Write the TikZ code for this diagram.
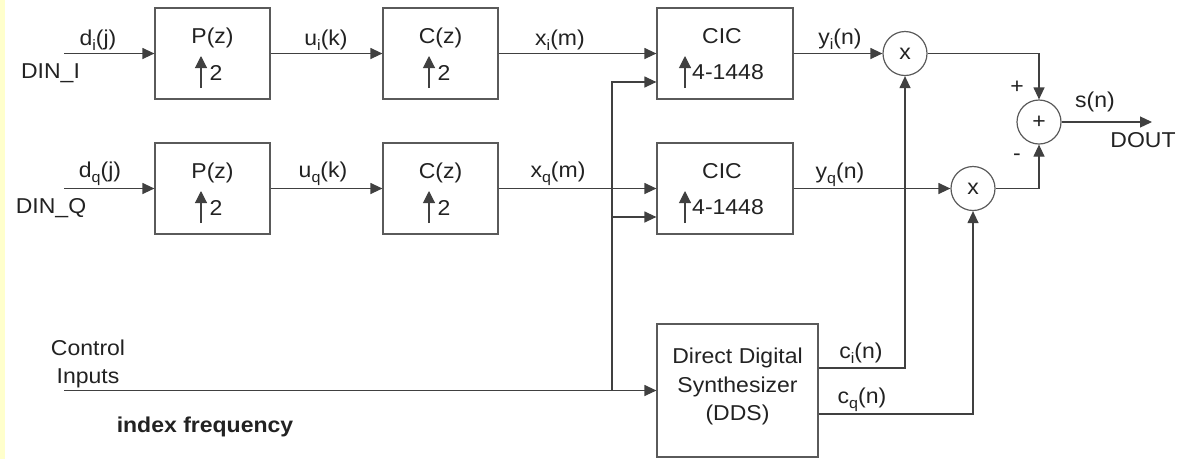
\documentclass[tikz,border=0pt]{standalone}
\usepackage{fontspec}
\setmainfont{Liberation Sans}[FakeStretch=1.07]
\usetikzlibrary{arrows.meta,calc}
\definecolor{ink}{HTML}{222222}
\definecolor{wirec}{HTML}{404040}
\definecolor{framec}{HTML}{5A5A5A}
\definecolor{strip}{HTML}{FFFFCC}
% small lowered index for signal names
\newcommand\lsub[1]{\raisebox{-5.5pt}{\fontsize{15}{15}\selectfont #1}}

\begin{document}
\begin{tikzpicture}[x=1pt,y=-1pt,
  every node/.style={font=\fontsize{21.5}{28}\selectfont, text=ink, inner sep=0pt},
  block/.style={draw=framec, line width=1.2pt, minimum width=115pt, minimum height=91pt},
  mixer/.style={draw=framec, line width=1.2pt, circle, minimum size=44pt},
  wire/.style={draw=wirec, line width=1.2pt},
  sig/.style={wire, -{Triangle[length=12pt,width=11pt]}},
  up/.style={draw=wirec, line width=1.1pt, -{Triangle[length=12pt,width=12pt]}},
  lbl/.style={anchor=base},
]
\useasboundingbox (0,0) rectangle (1191,459);
\fill[strip] (0,0) rectangle (5,459);

% processing blocks
\node[block] (pi) at (212.5,53.5) {};
\node[block] (ci) at (440.5,53.5) {};
\node[block, minimum width=136pt] (cici) at (725,53.5) {};
\node[block] (pq) at (212.5,188.5) {};
\node[block] (cq) at (440.5,188.5) {};
\node[block, minimum width=136pt] (cicq) at (725,188.5) {};
\node[block, minimum width=161pt, minimum height=133pt] (dds) at (737.5,390.5) {};

% block titles and interpolation factors
\foreach \b/\t in {pi/P(z), ci/C(z), pq/P(z), cq/C(z)} {
  \node[lbl] (\b-t) at ($(\b.center)+(0,-10)$) {\t};
  \draw[up] ($(\b.center)+(-11.5,34.5)$) -- ($(\b.center)+(-11.5,2.5)$);
  \node[lbl, anchor=base west] (\b-f) at ($(\b.center)+(-3,26.5)$) {2};
}
\foreach \b in {cici, cicq} {
  \node[lbl] (\b-t) at ($(\b.center)+(-3,-10)$) {CIC};
  \draw[up] ($(\b.center)+(-40,34.5)$) -- ($(\b.center)+(-40,2.5)$);
  \node[lbl, anchor=base west] (\b-f) at ($(\b.center)+(-33,26)$) {4-1448};
}
\node[lbl] (dds1) at (737.5,363) {Direct Digital};
\node[lbl] (dds2) at (737.5,392) {Synthesizer};
\node[lbl] (dds3) at (737.5,420) {(DDS)};

% multipliers and adder
\node[mixer] (mi) at (905,53.5) {x};
\node[mixer] (mq) at (973,188.5) {x};
\node[mixer] (sum) at (1039,122) {+};

% inputs
\coordinate (dini) at (64,53.5);
\coordinate (dinq) at (64,188.5);
\coordinate (ctl) at (64,390.5);
\coordinate (tap) at (612,390.5);
\coordinate (dout) at (1152,122);

% I path
\draw[sig] (dini) -- (pi.west);
\draw[sig] (pi.east) -- (ci.west);
\draw[sig] (ci.east) -- (cici.west);
\draw[sig] (cici.east) -- (mi.west);
% Q path
\draw[sig] (dinq) -- (pq.west);
\draw[sig] (pq.east) -- (cq.west);
\draw[sig] (cq.east) -- (cicq.west);
\draw[sig] (cicq.east) -- (mq.west);
% control inputs to CIC and DDS
\draw[sig] (ctl) -- (dds.west);
\draw[sig] (tap) |- ([yshift=-28.5pt]cici.west);
\draw[sig] ([yshift=-28.5pt]cicq.west -| tap) -- ([yshift=-28.5pt]cicq.west);
% carriers
\draw[sig] ([yshift=22.5pt]dds.east) -| (mi.south);
\draw[sig] ([yshift=-23.5pt]dds.east) -| (mq.south);
% combining
\draw[sig] (mi.east) -| (sum.north);
\draw[sig] (mq.east) -| (sum.south);
\draw[sig] (sum.east) -- (dout);

% signal labels
\node[lbl] (l-di) at (98,45) {d\lsub{i}(j)};
\node[lbl] (l-dq) at (100,177) {d\lsub{q}(j)};
\node[lbl] (l-dini) at (50.5,78) {DIN\_I};
\node[lbl] (l-dinq) at (51,213.5) {DIN\_Q};
\node[lbl] (l-ui) at (326,45) {u\lsub{i}(k)};
\node[lbl] (l-uq) at (323,177) {u\lsub{q}(k)};
\node[lbl] (l-xi) at (560,45) {x\lsub{i}(m)};
\node[lbl] (l-xq) at (558,177) {x\lsub{q}(m)};
\node[lbl] (l-yi) at (840,44) {y\lsub{i}(n)};
\node[lbl] (l-yq) at (840,178) {y\lsub{q}(n)};
\node[lbl] (l-ci) at (861,358) {c\lsub{i}(n)};
\node[lbl] (l-cq) at (862,403) {c\lsub{q}(n)};
\node (l-plus) at (1017,87) {+};
\node (l-minus) at (1017,157) {-};
\node[lbl] (l-s) at (1095,107) {s(n)};
\node[lbl] (l-dout) at (1143,147) {DOUT};
\node[lbl] (l-ctl1) at (88,355) {Control};
\node[lbl] (l-ctl2) at (88,383) {Inputs};
\node[lbl, font=\fontsize{21.5}{28}\selectfont\bfseries] (l-idx) at (205,432) {index frequency};
\end{tikzpicture}
\end{document}
